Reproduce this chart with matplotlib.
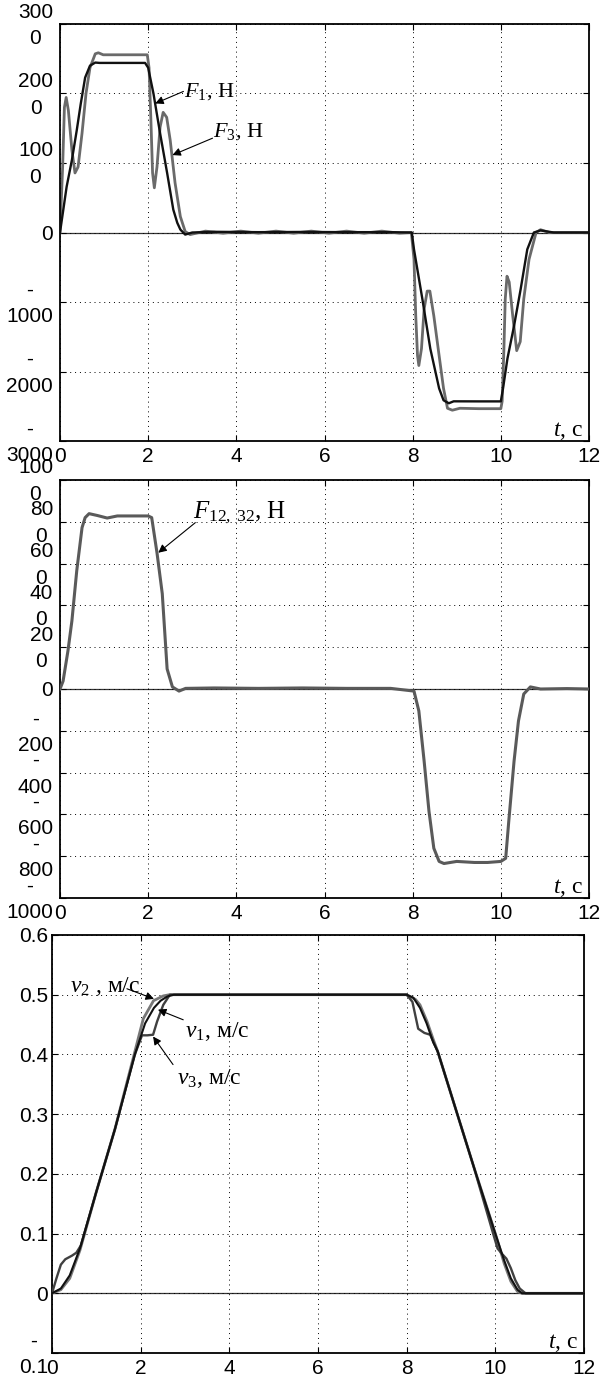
import matplotlib
matplotlib.use("Agg")
import matplotlib.pyplot as plt
import matplotlib.transforms as mtransforms

plt.rcParams['font.family'] = ['Liberation Sans', 'DejaVu Sans']
plt.rcParams['mathtext.fontset'] = 'custom'
plt.rcParams['mathtext.rm'] = 'Liberation Serif'
plt.rcParams['mathtext.it'] = 'Liberation Serif:italic'

# --- data ---
# panel 1: forces F1 (black) and F3 (gray), N
f1_t = [0, 0.08, 0.15, 0.27, 0.38, 0.47, 0.57, 0.68, 0.8, 0.9, 1.2, 1.5, 1.93, 2.0, 2.12, 2.27,
        2.43, 2.57, 2.66, 2.73, 2.84, 3.0, 3.5, 4.5, 5.5, 6.5, 7.5, 7.98, 8.03, 8.22, 8.4, 8.6,
        8.7, 8.82, 8.93, 9.5, 10.0, 10.05, 10.15, 10.3, 10.45, 10.6, 10.75, 10.9, 11.2, 12]
f1_v = [0, 350, 657, 1043, 1471, 1850, 2229, 2400, 2445, 2440, 2440, 2440, 2440, 2371, 2000, 1429,
        857, 329, 140, 43, -30, 0, 10, 5, 8, 5, 5, 0, -243, -957, -1671, -2243,
        -2414, -2457, -2429, -2430, -2430, -2243, -1814, -1343, -814, -243, 0, 30, 0, 0]
f3_t = [0, 0.06, 0.1, 0.14, 0.19, 0.27, 0.34, 0.41, 0.5, 0.59, 0.68, 0.8, 0.87, 0.98, 1.5,
        1.98, 2.02, 2.06, 2.1, 2.14, 2.2, 2.27, 2.34, 2.42, 2.5, 2.61, 2.73, 2.84, 2.95,
        3.3, 3.7, 4.1, 4.5, 4.9, 5.3, 5.7, 6.1, 6.5, 6.9, 7.3, 7.7, 7.97, 8.03, 8.07, 8.11,
        8.14, 8.2, 8.26, 8.33, 8.39, 8.48, 8.6, 8.7, 8.79, 8.9, 9.07, 9.5, 10.0, 10.03,
        10.07, 10.1, 10.14, 10.19, 10.27, 10.36, 10.44, 10.52, 10.64, 10.8, 10.9, 11.1, 12]
f3_v = [0, 943, 1800, 1943, 1757, 1186, 857, 943, 1429, 2000, 2371, 2571, 2586, 2557, 2557,
        2557, 2371, 1657, 857, 643, 943, 1514, 1729, 1657, 1329, 714, 229, 14, -30,
        20, -10, 20, -10, 20, -10, 20, -10, 20, -10, 20, -10, 0, -386, -1200, -1771,
        -1914, -1671, -1100, -843, -843, -1200, -1771, -2243, -2529, -2557, -2529, -2535, -2535, -2429,
        -1671, -957, -629, -714, -1200, -1700, -1571, -957, -386, 0, 40, 0, 0]

# panel 2: force F12,32 (gray), N
f12_t = [0, 0.07, 0.18, 0.27, 0.38, 0.5, 0.57, 0.66, 0.85, 1.07, 1.3, 1.6, 2.0, 2.08, 2.2,
         2.32, 2.43, 2.55, 2.7, 2.85, 3.5, 4.5, 5.5, 6.5, 7.5, 8.03, 8.14, 8.26, 8.37, 8.48,
         8.6, 8.71, 9.0, 9.4, 9.7, 10.0, 10.11, 10.18, 10.3, 10.4, 10.52, 10.67, 10.9, 11.5, 12]
f12_v = [0, 38, 182, 326, 566, 772, 820, 839, 830, 818, 828, 828, 828, 820, 652,
         456, 96, 10, -10, 3, 5, 3, 5, 3, 3, -10, -105, -345, -585, -762,
         -825, -835, -825, -830, -830, -825, -810, -633, -345, -153, -24, 10, 0, 2, 0]

# panel 3: velocities, m/s
v1_t = [0, 0.2, 0.4, 0.63, 1.0, 1.42, 1.87, 2.1, 2.3, 2.45, 2.6, 2.75, 8.0, 8.15, 8.3,
        8.45, 8.6, 8.7, 9.1, 9.5, 10.0, 10.2, 10.35, 10.5, 10.6, 12]
v1_v = [0, 0.008, 0.03, 0.075, 0.17, 0.275, 0.4, 0.452, 0.478, 0.49, 0.497, 0.5, 0.5, 0.495, 0.478,
        0.452, 0.42, 0.405, 0.31, 0.215, 0.1, 0.055, 0.025, 0.006, 0, 0]
v2_t = [0, 0.2, 0.4, 0.63, 1.0, 1.42, 1.87, 2.06, 2.29, 2.51, 2.65, 8.0, 8.2, 8.3, 8.46,
        8.6, 8.7, 9.1, 9.5, 10.0, 10.2, 10.35, 10.5, 10.6, 12]
v2_v = [0, 0.006, 0.025, 0.072, 0.17, 0.275, 0.405, 0.46, 0.49, 0.498, 0.5, 0.5, 0.492, 0.483, 0.455,
        0.425, 0.405, 0.31, 0.215, 0.1, 0.05, 0.02, 0.003, 0, 0]
v3_t = [0, 0.1, 0.2, 0.3, 0.45, 0.55, 0.65, 1.0, 1.42, 1.87, 2.03, 2.15, 2.28, 2.37, 2.51,
        2.66, 8.0, 8.13, 8.26, 8.4, 8.53, 8.7, 9.1, 9.5, 9.95, 10.05, 10.15, 10.25, 10.35,
        10.45, 10.55, 10.68, 12]
v3_v = [0, 0.025, 0.048, 0.057, 0.063, 0.068, 0.08, 0.17, 0.275, 0.4, 0.432, 0.432, 0.433, 0.455, 0.483,
        0.5, 0.5, 0.488, 0.443, 0.436, 0.433, 0.405, 0.31, 0.215, 0.1, 0.075, 0.066, 0.058, 0.042,
        0.022, 0.008, 0, 0]

x_ticks = [0, 2, 4, 6, 8, 10, 12]
x_labels = ['0', '2', '4', '6', '8', '10', '12']
p1_yticks = [-3000, -2000, -1000, 0, 1000, 2000, 3000]
p1_ylabels = ['-\n3000', '-\n2000', '-\n1000', '0', '100\n0', '200\n0', '300\n0']
p2_yticks = [-1000, -800, -600, -400, -200, 0, 200, 400, 600, 800, 1000]
p2_ylabels = ['-\n1000', '-\n800', '-\n600', '-\n400', '-\n200', '0',
              '20\n0', '40\n0', '60\n0', '80\n0', '100\n0']
p3_yticks = [-0.1, 0, 0.1, 0.2, 0.3, 0.4, 0.5, 0.6]
p3_ylabels = ['-\n0.1', '0', '0.1', '0.2', '0.3', '0.4', '0.5', '0.6']

W, H = 607, 1378
fig = plt.figure(figsize=(W / 100, H / 100), dpi=100)
SERIF = 'Liberation Serif'
lift = mtransforms.ScaledTranslation(0, 0.045, fig.dpi_scale_trans)


def make_axes(left, top, right, bottom):
    return fig.add_axes([left / W, 1 - bottom / H, (right - left) / W, (bottom - top) / H])


def style(ax, yticks, ylabels, ylim, ypad):
    ax.set_xlim(0, 12)
    ax.set_ylim(*ylim)
    ax.set_xticks(x_ticks)
    ax.set_xticklabels(x_labels)
    ax.set_yticks(yticks)
    ax.set_yticklabels(ylabels)
    ax.tick_params(direction='in', top=True, right=True, length=4, width=0.8,
                   labelsize=15, pad=4)
    ax.tick_params(axis='y', pad=ypad)
    ax.grid(True, linestyle=(0, (1, 4)), color='k', linewidth=0.7)
    for s in ax.spines.values():
        s.set_linewidth(1.3)
    ax.axhline(0, color='#333333', lw=0.9, zorder=1.5)
    ax.text(0.989, 0.012, '$t$, с', transform=ax.transAxes, ha='right', va='baseline',
            fontsize=17, family=SERIF)


def fix_labels(ax):
    # wrapped MATLAB-style labels: centred lines, nudged up a little
    for tick in ax.yaxis.get_major_ticks():
        lab = tick.label1
        lab.set_multialignment('center')
        lab.set_linespacing(1.5)
        if '\n' in lab.get_text():
            lab.set_transform(ax.get_yaxis_text1_transform(tick._pad)[0] + lift)


def arrow(ax, tail, tip):
    ax.annotate('', xy=tip, xytext=tail,
                arrowprops=dict(arrowstyle='-|>', color='k', lw=0.8, mutation_scale=12,
                                shrinkA=0, shrinkB=0))


# --- panel 1 ---
ax1 = make_axes(60, 24, 589, 441)
style(ax1, p1_yticks, p1_ylabels, (-3000, 3000), 5)
ax1.plot(f1_t, f1_v, color='#111111', lw=1.7, zorder=3)
ax1.plot(f3_t, f3_v, color='#6a6a6a', lw=2.0, zorder=2.5)
ax1.text(2.82, 1950, '$F_1$, Н', fontsize=16, family=SERIF)
arrow(ax1, (2.8, 2030), (2.16, 1857))
ax1.text(3.46, 1380, '$F_3$, Н', fontsize=16, family=SERIF)
arrow(ax1, (3.46, 1357), (2.55, 1114))

# --- panel 2 ---
ax2 = make_axes(60, 480, 589, 898)
style(ax2, p2_yticks, p2_ylabels, (-1000, 1000), 5)
ax2.plot(f12_t, f12_v, color='#5a5a5a', lw=2.2, zorder=3)
ax2.text(3.02, 820, r'$F_{12,\;32}$, Н', fontsize=18, family=SERIF)
arrow(ax2, (3.07, 796), (2.23, 652))

# --- panel 3 ---
ax3 = make_axes(52, 935, 584, 1353)
style(ax3, p3_yticks, p3_ylabels, (-0.1, 0.6), 3)
ax3.plot(v2_t, v2_v, color='#777777', lw=2.0, zorder=2.5)
ax3.plot(v3_t, v3_v, color='#404040', lw=1.7, zorder=2.7)
ax3.plot(v1_t, v1_v, color='#111111', lw=1.5, zorder=3)
ax3.text(0.4, 0.505, '$v_2$ , м/с', fontsize=17, family=SERIF)
arrow(ax3, (1.69, 0.51), (2.3, 0.493))
ax3.text(3.0, 0.43, '$v_1$, м/с', fontsize=17, family=SERIF)
arrow(ax3, (2.96, 0.458), (2.39, 0.475))
ax3.text(2.82, 0.35, '$v_3$, м/с', fontsize=17, family=SERIF)
arrow(ax3, (2.73, 0.383), (2.28, 0.43))

for ax in (ax1, ax2, ax3):
    fix_labels(ax)

fig.savefig('out.png', dpi=100)
